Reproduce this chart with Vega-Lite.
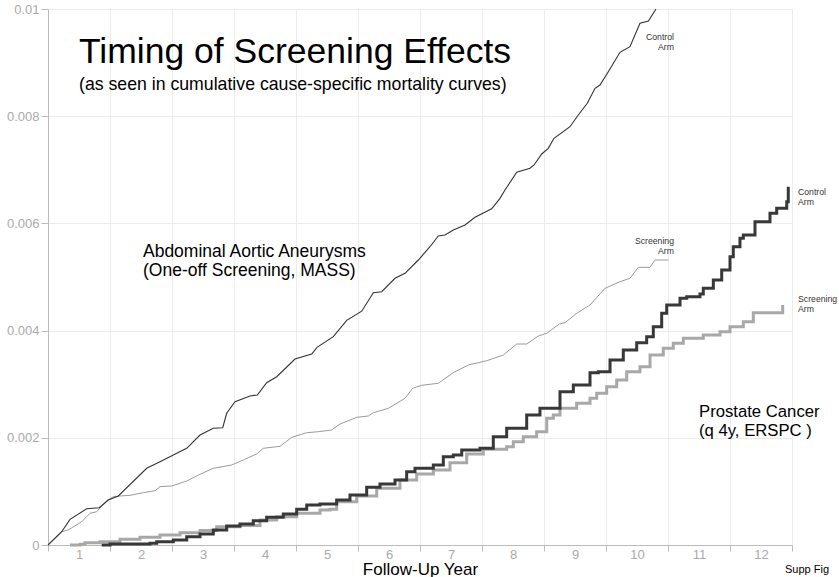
{
  "$schema": "https://vega.github.io/schema/vega-lite/v6.json",
  "width": 744,
  "height": 536,
  "autosize": "none",
  "padding": {"left": 48, "top": 9, "right": 47, "bottom": 32},
  "background": "white",
  "config": {
    "view": {"stroke": null},
    "font": "Liberation Sans",
    "axis": {
      "domainColor": "#bbbbbb",
      "tickColor": "#bbbbbb",
      "gridColor": "#ececec",
      "labelColor": "#aaaaaa",
      "labelFontSize": 13,
      "labelFont": "Liberation Sans"
    }
  },
  "datasets": {
    "aaa_control": [
      {"year": 0, "mortality": 0},
      {"year": 0.221, "mortality": 0.000248},
      {"year": 0.355, "mortality": 0.000479},
      {"year": 0.624, "mortality": 0.000677},
      {"year": 0.827, "mortality": 0.000696},
      {"year": 0.973, "mortality": 0.00084},
      {"year": 1.134, "mortality": 0.000914},
      {"year": 1.592, "mortality": 0.001431},
      {"year": 1.806, "mortality": 0.001554},
      {"year": 2.021, "mortality": 0.001679},
      {"year": 2.237, "mortality": 0.001804},
      {"year": 2.452, "mortality": 0.002052},
      {"year": 2.666, "mortality": 0.002177},
      {"year": 2.818, "mortality": 0.002188},
      {"year": 2.882, "mortality": 0.002457},
      {"year": 3.016, "mortality": 0.002674},
      {"year": 3.258, "mortality": 0.00278},
      {"year": 3.376, "mortality": 0.002799},
      {"year": 3.527, "mortality": 0.003028},
      {"year": 3.689, "mortality": 0.00314},
      {"year": 3.984, "mortality": 0.00347},
      {"year": 4.253, "mortality": 0.003563},
      {"year": 4.339, "mortality": 0.003688},
      {"year": 4.602, "mortality": 0.003886},
      {"year": 4.818, "mortality": 0.004192},
      {"year": 5.06, "mortality": 0.004362},
      {"year": 5.247, "mortality": 0.004707},
      {"year": 5.382, "mortality": 0.004726},
      {"year": 5.597, "mortality": 0.004976},
      {"year": 5.758, "mortality": 0.005069},
      {"year": 5.973, "mortality": 0.005317},
      {"year": 6.161, "mortality": 0.005565},
      {"year": 6.295, "mortality": 0.005765},
      {"year": 6.403, "mortality": 0.005784},
      {"year": 6.537, "mortality": 0.005877},
      {"year": 6.726, "mortality": 0.00597},
      {"year": 6.887, "mortality": 0.006114},
      {"year": 7.156, "mortality": 0.006272},
      {"year": 7.29, "mortality": 0.006468},
      {"year": 7.371, "mortality": 0.006623},
      {"year": 7.56, "mortality": 0.006953},
      {"year": 7.774, "mortality": 0.007028},
      {"year": 7.839, "mortality": 0.00709},
      {"year": 7.963, "mortality": 0.007295},
      {"year": 8.069, "mortality": 0.007401},
      {"year": 8.161, "mortality": 0.007588},
      {"year": 8.419, "mortality": 0.007804},
      {"year": 8.553, "mortality": 0.008022},
      {"year": 8.698, "mortality": 0.008241},
      {"year": 8.823, "mortality": 0.008521},
      {"year": 8.903, "mortality": 0.008582},
      {"year": 9.037, "mortality": 0.00883},
      {"year": 9.226, "mortality": 0.009192},
      {"year": 9.387, "mortality": 0.009297},
      {"year": 9.548, "mortality": 0.009733},
      {"year": 9.685, "mortality": 0.009776},
      {"year": 9.806, "mortality": 0.01}
    ],
    "aaa_screening": [
      {"year": 0, "mortality": 0},
      {"year": 0.221, "mortality": 0.000248},
      {"year": 0.327, "mortality": 0.00028},
      {"year": 0.544, "mortality": 0.000435},
      {"year": 0.677, "mortality": 0.000591},
      {"year": 0.785, "mortality": 0.000621},
      {"year": 0.947, "mortality": 0.000826},
      {"year": 1.053, "mortality": 0.000901},
      {"year": 1.161, "mortality": 0.000914},
      {"year": 1.323, "mortality": 0.000927},
      {"year": 1.537, "mortality": 0.000976},
      {"year": 1.726, "mortality": 0.001013},
      {"year": 1.806, "mortality": 0.001088},
      {"year": 1.995, "mortality": 0.001101},
      {"year": 2.237, "mortality": 0.001194},
      {"year": 2.452, "mortality": 0.001319},
      {"year": 2.666, "mortality": 0.001431},
      {"year": 2.963, "mortality": 0.001493},
      {"year": 3.15, "mortality": 0.001586},
      {"year": 3.366, "mortality": 0.001698},
      {"year": 3.473, "mortality": 0.001804},
      {"year": 3.742, "mortality": 0.001841},
      {"year": 3.931, "mortality": 0.002009},
      {"year": 4.173, "mortality": 0.002095},
      {"year": 4.36, "mortality": 0.002114},
      {"year": 4.576, "mortality": 0.002146},
      {"year": 4.71, "mortality": 0.002257},
      {"year": 4.979, "mortality": 0.002382},
      {"year": 5.166, "mortality": 0.002407},
      {"year": 5.247, "mortality": 0.002468},
      {"year": 5.489, "mortality": 0.00255},
      {"year": 5.758, "mortality": 0.002737},
      {"year": 5.882, "mortality": 0.002924},
      {"year": 6.027, "mortality": 0.002979},
      {"year": 6.295, "mortality": 0.003017},
      {"year": 6.537, "mortality": 0.003215},
      {"year": 6.779, "mortality": 0.003358},
      {"year": 7.076, "mortality": 0.003438},
      {"year": 7.344, "mortality": 0.003545},
      {"year": 7.56, "mortality": 0.00375},
      {"year": 7.721, "mortality": 0.00375},
      {"year": 7.908, "mortality": 0.003899},
      {"year": 8.044, "mortality": 0.00395},
      {"year": 8.247, "mortality": 0.004123},
      {"year": 8.339, "mortality": 0.004147},
      {"year": 8.527, "mortality": 0.004323},
      {"year": 8.742, "mortality": 0.004478},
      {"year": 8.984, "mortality": 0.004789},
      {"year": 9.226, "mortality": 0.004912},
      {"year": 9.387, "mortality": 0.004976},
      {"year": 9.521, "mortality": 0.005181},
      {"year": 9.71, "mortality": 0.005181},
      {"year": 9.79, "mortality": 0.005317},
      {"year": 10.005, "mortality": 0.005317}
    ],
    "psa_control": [
      {"year": 0.866, "mortality": 0},
      {"year": 1.0, "mortality": 0.0000187},
      {"year": 1.645, "mortality": 0.0000317},
      {"year": 1.753, "mortality": 0.0000616},
      {"year": 2.021, "mortality": 0.0000933},
      {"year": 2.237, "mortality": 0.000155},
      {"year": 2.452, "mortality": 0.000205},
      {"year": 2.666, "mortality": 0.00028},
      {"year": 2.882, "mortality": 0.000354},
      {"year": 3.097, "mortality": 0.000392},
      {"year": 3.311, "mortality": 0.000453},
      {"year": 3.527, "mortality": 0.000517},
      {"year": 3.795, "mortality": 0.000578},
      {"year": 4.011, "mortality": 0.000666},
      {"year": 4.173, "mortality": 0.000746},
      {"year": 4.387, "mortality": 0.000765},
      {"year": 4.656, "mortality": 0.00084},
      {"year": 4.871, "mortality": 0.000933},
      {"year": 5.14, "mortality": 0.001076},
      {"year": 5.355, "mortality": 0.001138},
      {"year": 5.597, "mortality": 0.001213},
      {"year": 5.785, "mortality": 0.001368},
      {"year": 5.919, "mortality": 0.001431},
      {"year": 6.215, "mortality": 0.001493},
      {"year": 6.376, "mortality": 0.001647},
      {"year": 6.537, "mortality": 0.001679},
      {"year": 6.673, "mortality": 0.001772},
      {"year": 6.968, "mortality": 0.001804},
      {"year": 7.182, "mortality": 0.002021},
      {"year": 7.398, "mortality": 0.002177},
      {"year": 7.721, "mortality": 0.002425},
      {"year": 7.935, "mortality": 0.00255},
      {"year": 8.258, "mortality": 0.00286},
      {"year": 8.473, "mortality": 0.002985},
      {"year": 8.742, "mortality": 0.003215},
      {"year": 8.876, "mortality": 0.003233},
      {"year": 9.065, "mortality": 0.003451},
      {"year": 9.279, "mortality": 0.003638},
      {"year": 9.495, "mortality": 0.003774},
      {"year": 9.656, "mortality": 0.003886},
      {"year": 9.763, "mortality": 0.004073},
      {"year": 9.898, "mortality": 0.004323},
      {"year": 9.979, "mortality": 0.004478},
      {"year": 10.194, "mortality": 0.004603},
      {"year": 10.302, "mortality": 0.004632},
      {"year": 10.516, "mortality": 0.004683},
      {"year": 10.569, "mortality": 0.004789},
      {"year": 10.731, "mortality": 0.004944},
      {"year": 10.866, "mortality": 0.005131},
      {"year": 11.0, "mortality": 0.005379},
      {"year": 11.053, "mortality": 0.005565},
      {"year": 11.161, "mortality": 0.005722},
      {"year": 11.215, "mortality": 0.005784},
      {"year": 11.403, "mortality": 0.006032},
      {"year": 11.645, "mortality": 0.006188},
      {"year": 11.753, "mortality": 0.006282},
      {"year": 11.915, "mortality": 0.006405},
      {"year": 11.94, "mortality": 0.006685}
    ],
    "psa_screening": [
      {"year": 0.355, "mortality": 0},
      {"year": 0.516, "mortality": 0.000013},
      {"year": 0.597, "mortality": 0.000043},
      {"year": 0.839, "mortality": 0.0000616},
      {"year": 1.161, "mortality": 0.000106},
      {"year": 1.484, "mortality": 0.000144},
      {"year": 1.806, "mortality": 0.000187},
      {"year": 2.129, "mortality": 0.000229},
      {"year": 2.452, "mortality": 0.000271},
      {"year": 2.721, "mortality": 0.000341},
      {"year": 3.097, "mortality": 0.000364},
      {"year": 3.419, "mortality": 0.000466},
      {"year": 3.689, "mortality": 0.000528},
      {"year": 4.011, "mortality": 0.000591},
      {"year": 4.387, "mortality": 0.000653},
      {"year": 4.548, "mortality": 0.000666},
      {"year": 4.656, "mortality": 0.000808},
      {"year": 4.979, "mortality": 0.000914},
      {"year": 5.302, "mortality": 0.001058},
      {"year": 5.677, "mortality": 0.001213},
      {"year": 5.947, "mortality": 0.001325},
      {"year": 6.215, "mortality": 0.001399},
      {"year": 6.484, "mortality": 0.001535},
      {"year": 6.753, "mortality": 0.001698},
      {"year": 7.021, "mortality": 0.001785},
      {"year": 7.398, "mortality": 0.001834},
      {"year": 7.505, "mortality": 0.001927},
      {"year": 7.666, "mortality": 0.00202},
      {"year": 7.882, "mortality": 0.002114},
      {"year": 8.044, "mortality": 0.002364},
      {"year": 8.15, "mortality": 0.002425},
      {"year": 8.258, "mortality": 0.00255},
      {"year": 8.527, "mortality": 0.002644},
      {"year": 8.742, "mortality": 0.002737},
      {"year": 8.85, "mortality": 0.00283},
      {"year": 9.011, "mortality": 0.002953},
      {"year": 9.173, "mortality": 0.003078},
      {"year": 9.334, "mortality": 0.003233},
      {"year": 9.548, "mortality": 0.003326},
      {"year": 9.71, "mortality": 0.003545},
      {"year": 9.924, "mortality": 0.00367},
      {"year": 10.085, "mortality": 0.003763},
      {"year": 10.247, "mortality": 0.003856},
      {"year": 10.569, "mortality": 0.003918},
      {"year": 10.839, "mortality": 0.003979},
      {"year": 11.0, "mortality": 0.004073},
      {"year": 11.215, "mortality": 0.004166},
      {"year": 11.376, "mortality": 0.004334},
      {"year": 11.839, "mortality": 0.004334},
      {"year": 11.85, "mortality": 0.004478}
    ]
  },
  "layer": [
    {
      "data": {"name": "aaa_screening"},
      "mark": {"type": "line", "color": "#9a9a9a", "strokeWidth": 1},
      "encoding": {
        "x": {
          "field": "year",
          "type": "quantitative",
          "title": "Follow-Up Year",
          "scale": {"domain": [0, 12], "nice": false, "zero": false},
          "axis": {
            "values": [0, 1, 2, 3, 4, 5, 6, 7, 8, 9, 10, 11, 12],
            "labelExpr": "datum.value < 12 ? toString(datum.value + 1) : ''",
            "labelOffset": 31,
            "labelFlush": false,
            "labelOverlap": false,
            "labelBaseline": "top",
            "tickSize": 6,
            "labelPadding": -3,
            "titleY": 29,
            "titleBaseline": "alphabetic",
            "titleFontSize": 17,
            "titleFontWeight": "normal",
            "titleColor": "#000000",
            "titleFont": "Liberation Sans"
          }
        },
        "y": {
          "field": "mortality",
          "type": "quantitative",
          "title": null,
          "scale": {"domain": [0, 0.01], "nice": false},
          "axis": {
            "values": [0, 0.002, 0.004, 0.006, 0.008, 0.01],
            "format": "~g",
            "tickSize": 7,
            "labelPadding": 2
          }
        }
      }
    },
    {
      "data": {"name": "aaa_control"},
      "mark": {"type": "line", "color": "#333333", "strokeWidth": 1.1},
      "encoding": {
        "x": {"field": "year", "type": "quantitative"},
        "y": {"field": "mortality", "type": "quantitative"}
      }
    },
    {
      "data": {"name": "psa_screening"},
      "mark": {"type": "line", "interpolate": "step-after", "color": "#a8a8a8", "strokeWidth": 3},
      "encoding": {
        "x": {"field": "year", "type": "quantitative"},
        "y": {"field": "mortality", "type": "quantitative"}
      }
    },
    {
      "data": {"name": "psa_control"},
      "mark": {"type": "line", "interpolate": "step-after", "color": "#383838", "strokeWidth": 3},
      "encoding": {
        "x": {"field": "year", "type": "quantitative"},
        "y": {"field": "mortality", "type": "quantitative"}
      }
    },
    {
      "data": {"values": [{"label": "Timing of Screening Effects"}]},
      "mark": {"type": "text", "align": "left", "baseline": "alphabetic", "fontSize": 35.5, "color": "#000000", "font": "Liberation Sans"},
      "encoding": {"x": {"datum": 0.5}, "y": {"datum": 0.008993}, "text": {"field": "label"}}
    },
    {
      "data": {"values": [{"label": "(as seen in cumulative cause-specific mortality curves)"}]},
      "mark": {"type": "text", "align": "left", "baseline": "alphabetic", "fontSize": 17.7, "color": "#000000", "font": "Liberation Sans"},
      "encoding": {"x": {"datum": 0.5}, "y": {"datum": 0.008489}, "text": {"field": "label"}}
    },
    {
      "data": {"values": [{"label": ["Abdominal Aortic Aneurysms", "(One-off Screening, MASS)"]}]},
      "mark": {"type": "text", "align": "left", "baseline": "alphabetic", "fontSize": 17.5, "lineHeight": 18.5, "color": "#000000", "font": "Liberation Sans"},
      "encoding": {"x": {"datum": 1.532}, "y": {"datum": 0.005373}, "text": {"field": "label"}}
    },
    {
      "data": {"values": [{"label": ["Prostate Cancer", "(q 4y, ERSPC )"]}]},
      "mark": {"type": "text", "align": "left", "baseline": "alphabetic", "fontSize": 16.7, "lineHeight": 19, "color": "#000000", "font": "Liberation Sans"},
      "encoding": {"x": {"datum": 10.5}, "y": {"datum": 0.002388}, "text": {"field": "label"}}
    },
    {
      "data": {"values": [{"label": ["Control", "Arm"]}]},
      "mark": {"type": "text", "align": "right", "baseline": "alphabetic", "fontSize": 8.7, "lineHeight": 10, "color": "#333333", "font": "Liberation Sans"},
      "encoding": {"x": {"datum": 10.097}, "y": {"datum": 0.009422}, "text": {"field": "label"}}
    },
    {
      "data": {"values": [{"label": ["Screening", "Arm"]}]},
      "mark": {"type": "text", "align": "right", "baseline": "alphabetic", "fontSize": 8.7, "lineHeight": 10, "color": "#333333", "font": "Liberation Sans"},
      "encoding": {"x": {"datum": 10.097}, "y": {"datum": 0.005625}, "text": {"field": "label"}}
    },
    {
      "data": {"values": [{"label": ["Control", "Arm"]}]},
      "mark": {"type": "text", "align": "left", "baseline": "alphabetic", "fontSize": 8.7, "lineHeight": 10, "color": "#333333", "font": "Liberation Sans"},
      "encoding": {"x": {"datum": 12.097}, "y": {"datum": 0.00653}, "text": {"field": "label"}}
    },
    {
      "data": {"values": [{"label": ["Screening", "Arm"]}]},
      "mark": {"type": "text", "align": "left", "baseline": "alphabetic", "fontSize": 8.7, "lineHeight": 10, "color": "#333333", "font": "Liberation Sans"},
      "encoding": {"x": {"datum": 12.097}, "y": {"datum": 0.004534}, "text": {"field": "label"}}
    },
    {
      "data": {"values": [{"label": "Supp Fig"}]},
      "mark": {"type": "text", "align": "left", "baseline": "alphabetic", "fontSize": 11, "color": "#000000", "font": "Liberation Sans"},
      "encoding": {"x": {"datum": 11.887}, "y": {"datum": -0.000522}, "text": {"field": "label"}}
    }
  ]
}
